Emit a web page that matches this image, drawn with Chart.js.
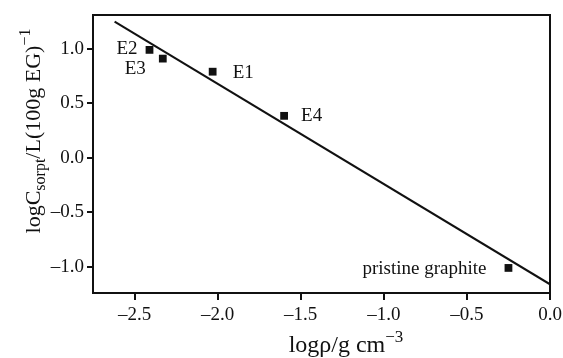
<!DOCTYPE html>
<html>
<head>
<meta charset="utf-8">
<script src="https://cdn.jsdelivr.net/npm/chart.js@4.4.1/dist/chart.umd.min.js"></script>
<style>
  html, body { margin: 0; padding: 0; background: #fff; }
  #wrap { width: 563px; height: 358px; }
</style>
</head>
<body>
<div id="wrap"><canvas id="sorption-chart" width="563" height="358"></canvas></div>
<script>
// Sample points
const sampleNames = ['E2', 'E3', 'E1', 'E4', 'pristine graphite'];
const logDensity = [-2.41, -2.33, -2.03, -1.60, -0.25];
const logSorption = [0.99, 0.91, 0.79, 0.385, -1.01];

// Fitted line end points
const fitX = [-2.62, 0.0];
const fitY = [1.25, -1.16];

// Tick labels
const xTicks = [-2.5, -2.0, -1.5, -1.0, -0.5, 0.0];
const yTicks = [-1.0, -0.5, 0.0, 0.5, 1.0];

const SERIF = '"Liberation Serif", "DejaVu Serif", serif';
const INK = '#111';

function fmt(v) {
    const s = Math.abs(v).toFixed(1);
    return v < -1e-9 ? '\u2013' + s : s;
}

// Draws the frame, point names and the two axis titles (with sub/superscripts)
const decorations = {
    id: 'decorations',
    afterDraw(chart) {
        const ctx = chart.ctx;
        const area = chart.chartArea;
        const xs = chart.scales.x;
        const ys = chart.scales.y;
        ctx.save();

        // box round the plot
        ctx.strokeStyle = INK;
        ctx.lineWidth = 2;
        ctx.strokeRect(area.left, area.top, area.right - area.left, area.bottom - area.top);

        // point names
        ctx.fillStyle = INK;
        ctx.font = '19px ' + SERIF;
        ctx.textBaseline = 'middle';
        const place = {
            'E2': { align: 'right', dx: -12, dy: -1 },
            'E3': { align: 'right', dx: -17, dy: 10 },
            'E1': { align: 'left', dx: 20, dy: 1 },
            'E4': { align: 'left', dx: 17, dy: 0 },
            'pristine graphite': { align: 'right', dx: -22, dy: 1 },
        };
        sampleNames.forEach((name, i) => {
            const p = place[name];
            ctx.textAlign = p.align;
            ctx.fillText(name, xs.getPixelForValue(logDensity[i]) + p.dx, ys.getPixelForValue(logSorption[i]) + p.dy);
        });

        // x axis title: logρ/g cm^-3
        ctx.textAlign = 'left';
        ctx.textBaseline = 'alphabetic';
        const xBig = '24px ' + SERIF;
        const xSmall = '17px ' + SERIF;
        const xMain = 'log\u03c1/g cm';
        ctx.font = xSmall;
        const xSupW = ctx.measureText('\u22123').width;
        ctx.font = xBig;
        const xMainW = ctx.measureText(xMain).width;
        const x0 = 346 - (xMainW + xSupW) / 2;
        const xBase = 352;
        ctx.fillText(xMain, x0, xBase);
        ctx.font = xSmall;
        ctx.fillText('\u22123', x0 + xMainW, xBase - 10);

        // y axis title: logC_sorpt/L(100g EG)^-1, rotated
        const big = '22px ' + SERIF;
        const small = '16px ' + SERIF;
        const parts = [
            { t: 'logC', f: big, dy: 0 },
            { t: 'sorpt', f: small, dy: 5 },
            { t: '/L(100g EG)', f: big, dy: 0 },
            { t: '\u22121', f: small, dy: -10 },
        ];
        let total = 0;
        parts.forEach(p => { ctx.font = p.f; p.w = ctx.measureText(p.t).width; total += p.w; });
        ctx.translate(40, 131);
        ctx.rotate(-Math.PI / 2);
        let cx = -total / 2;
        parts.forEach(p => {
            ctx.font = p.f;
            ctx.fillText(p.t, cx, p.dy);
            cx += p.w;
        });
        ctx.restore();
    }
};

new Chart('sorption-chart', {
    data: {
        datasets: [
            {
                type: 'line',
                label: 'fit',
                data: fitX.map((x, i) => ({ x: x, y: fitY[i] })),
                borderColor: INK,
                borderWidth: 2,
                pointRadius: 0,
                fill: false,
            },
            {
                type: 'scatter',
                label: 'samples',
                data: logDensity.map((x, i) => ({ x: x, y: logSorption[i] })),
                pointStyle: 'rect',
                pointRadius: 5.5,
                backgroundColor: INK,
                borderColor: INK,
                borderWidth: 0,
            }
        ]
    },
    options: {
        responsive: false,
        animation: false,
        events: [],
        layout: { padding: { left: 0, right: 13, top: 15, bottom: 0 } },
        plugins: {
            legend: { display: false },
            tooltip: { enabled: false },
        },
        scales: {
            x: {
                type: 'linear',
                min: -2.75,
                max: 0.0,
                afterBuildTicks: s => { s.ticks = xTicks.map(v => ({ value: v })); },
                afterFit: s => { s.height = 65; s.paddingRight = 0; s.paddingLeft = 0; },
                ticks: {
                    callback: v => fmt(v),
                    color: INK,
                    font: { family: SERIF, size: 19 },
                    padding: 4,
                    maxRotation: 0,
                },
                grid: { drawOnChartArea: false, drawTicks: true, tickLength: 7, color: INK, lineWidth: 2 },
                border: { display: true, color: INK, width: 2 },
            },
            y: {
                type: 'linear',
                min: -1.24,
                max: 1.31,
                afterBuildTicks: s => { s.ticks = yTicks.map(v => ({ value: v })); },
                afterFit: s => { s.width = 93; s.paddingTop = 0; s.paddingBottom = 0; },
                ticks: {
                    callback: v => fmt(v),
                    color: INK,
                    font: { family: SERIF, size: 19 },
                    padding: 3,
                },
                grid: { drawOnChartArea: false, drawTicks: true, tickLength: 6, color: INK, lineWidth: 2 },
                border: { display: true, color: INK, width: 2 },
            }
        }
    },
    plugins: [decorations]
});
</script>
</body>
</html>
